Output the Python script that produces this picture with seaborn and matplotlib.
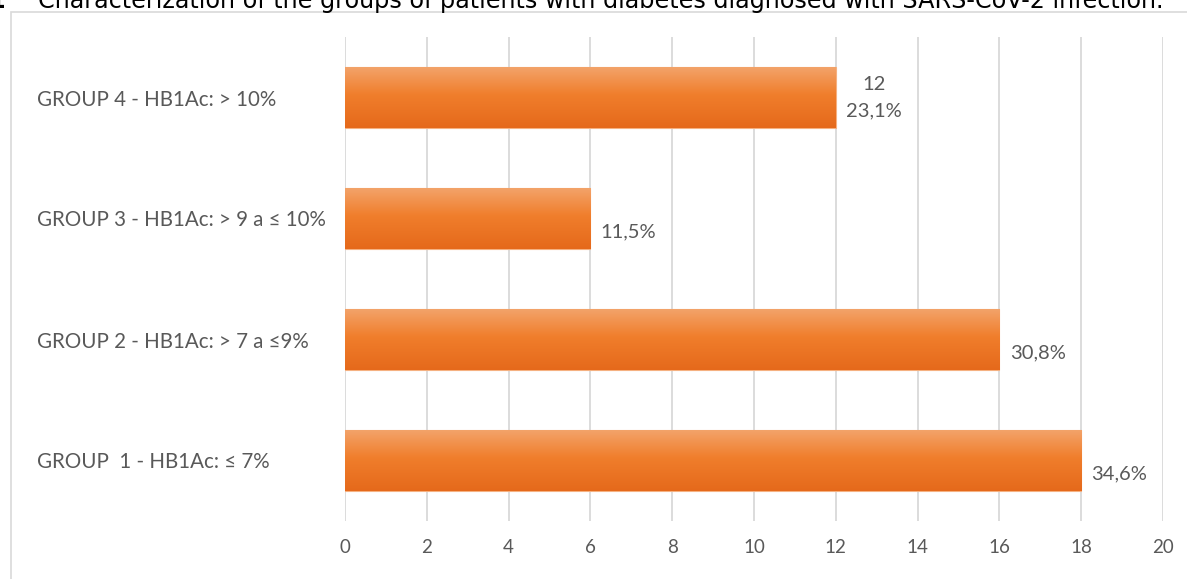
import numpy as np
import pandas as pd
import matplotlib
matplotlib.use("Agg")
import matplotlib.pyplot as plt
import matplotlib.patches as mpatches
from matplotlib.colors import LinearSegmentedColormap
import seaborn as sns

# Groups listed top to bottom as drawn
groups = [
    "GROUP 4 - HB1Ac: > 10%",
    "GROUP 3 - HB1Ac: > 9 a \u2264 10%",
    "GROUP 2 - HB1Ac: > 7 a \u22649%",
    "GROUP  1 - HB1Ac: \u2264 7%",
]
patients = [12, 6, 16, 18]
bar_labels = ["12\n23,1%", "\n11,5%", "\n30,8%", "\n34,6%"]
x_ticks = [0, 2, 4, 6, 8, 10, 12, 14, 16, 18, 20]
title = ("Characterization of the groups of patients with diabetes "
         "diagnosed with SARS-CoV-2 infection.")

df = pd.DataFrame({"group": groups, "patients": patients})

sns.set_theme(style="white")
fam = ["Lato", "DejaVu Sans"]
plt.rcParams["font.family"] = fam

W, H = 1187, 579
fig = plt.figure(figsize=(W / 100, H / 100), dpi=100)
fig.patch.set_facecolor("white")

# light frame around the chart area
frame = mpatches.Rectangle((11 / W, -0.05), 1.2, 1 - 12 / H + 0.05,
                           transform=fig.transFigure, fill=False,
                           edgecolor="#d9d9d9", linewidth=1.2)
fig.add_artist(frame)

# caption line along the top edge
fig.text(38 / W, 1 - 8 / H, title, ha="left", va="baseline",
         fontsize=17.2, color="black", family=["DejaVu Sans"])
fig.text(5 / W, 1 - 8 / H, "1", ha="right", va="baseline",
         fontsize=17.2, color="black", family=["DejaVu Sans"], weight="bold")

ax = fig.add_axes([345 / W, 1 - 521 / H, (1163 - 345) / W, (521 - 37) / H])
sns.barplot(data=df, x="patients", y="group", order=groups, orient="h",
            width=0.5, color="#ef7b2a", edgecolor="#f5b181", linewidth=0.8,
            ax=ax)

# vertical orange gradient on each bar
cmap = LinearSegmentedColormap.from_list(
    "bar", [(0.0, "#f3a36a"), (0.45, "#f07e2c"), (1.0, "#e5691b")])
grad = np.linspace(0, 1, 256).reshape(-1, 1)
for patch in ax.patches:
    x0, y0 = patch.get_x(), patch.get_y()
    w, h = patch.get_width(), patch.get_height()
    im = ax.imshow(grad, cmap=cmap, aspect="auto", origin="upper",
                   extent=(x0, x0 + w, y0 + h, y0), zorder=patch.get_zorder(),
                   interpolation="bicubic")
    im.set_clip_path(patch)

for patch, lab in zip(ax.patches, bar_labels):
    yc = patch.get_y() + patch.get_height() / 2
    ax.annotate(lab, (patch.get_width(), yc), xytext=(7.5, 0),
                textcoords="offset points", ha="left", va="center",
                multialignment="center", fontsize=14.5, color="#595959",
                linespacing=1.7)

ax.set_xlim(0, 20)
ax.set_ylim(3.5, -0.5)
ax.set_xticks(x_ticks)
ax.set_xticklabels([str(t) for t in x_ticks])
ax.grid(axis="x", color="#d9d9d9", linewidth=1.3)
ax.set_axisbelow(True)
for s in ax.spines.values():
    s.set_visible(False)
ax.set_xlabel("")
ax.set_ylabel("")
ax.tick_params(axis="x", length=0, pad=13, labelsize=13.5, labelcolor="#595959")
ax.tick_params(axis="y", length=0, pad=(345 - 37) * 0.72, labelsize=14.8,
               labelcolor="#595959")
for t in ax.get_yticklabels():
    t.set_ha("left")

fig.savefig("out.png", dpi=100)
